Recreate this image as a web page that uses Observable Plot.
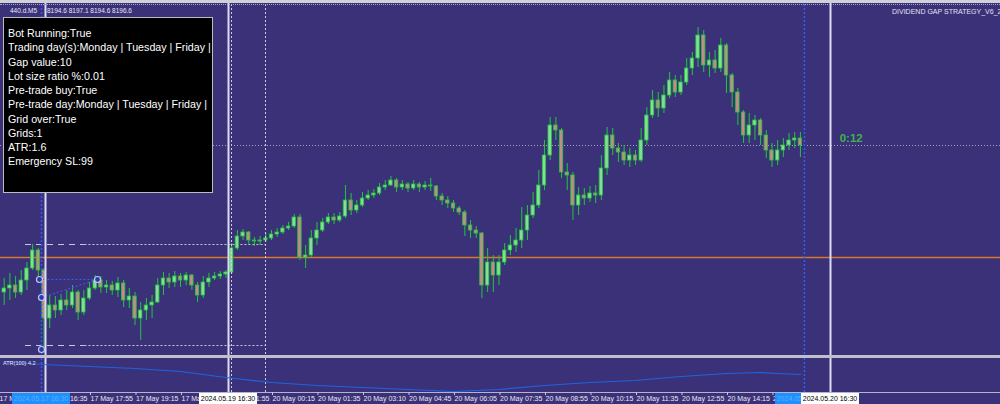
<!DOCTYPE html>
<html><head><meta charset="utf-8">
<script src="https://cdn.jsdelivr.net/npm/d3@7"></script>
<script src="https://cdn.jsdelivr.net/npm/@observablehq/plot@0.6"></script>
<style>
html,body{margin:0;padding:0;background:#3b3179;overflow:hidden;font-family:"Liberation Sans",Arial,sans-serif;}
#wrap{position:relative;width:1000px;height:404px;background:#3b3179;overflow:hidden;}
.abs{position:absolute;white-space:nowrap;}
</style></head><body><div id="wrap"></div>
<script>
// ---- data (price in index points, time in 10-minute bar index) ----
const firstOpen = 8167.2;
const closes = [8168.0,8168.6,8167.2,8169.6,8172.0,8175.6,8171.6,8162.0,8164.6,8163.6,
8165.6,8164.6,8167.2,8163.2,8166.0,8168.0,8169.6,8168.2,8168.6,8167.6,
8169.0,8165.6,8166.4,8162.0,8163.6,8164.6,8165.2,8168.6,8170.0,8169.2,
8170.4,8169.6,8170.6,8168.6,8166.6,8169.2,8170.0,8170.4,8170.8,8171.2,
8176.0,8178.4,8179.2,8177.6,8177.4,8177.6,8178.0,8178.8,8179.2,8180.0,
8180.4,8182.2,8174.2,8174.6,8178.0,8179.6,8181.2,8182.2,8181.6,8182.4,
8185.6,8183.6,8184.6,8186.0,8186.6,8187.0,8188.2,8188.6,8189.6,8188.2,
8188.8,8188.0,8188.8,8188.2,8188.6,8188.4,8186.4,8185.6,8185.0,8184.0,
8183.2,8180.6,8179.6,8179.0,8168.6,8173.2,8170.6,8173.2,8175.6,8176.6,
8177.6,8179.6,8182.6,8184.6,8188.6,8194.6,8200.6,8199.6,8191.2,8190.6,
8184.6,8186.6,8186.0,8187.0,8186.6,8192.0,8198.6,8196.0,8195.2,8193.6,
8194.6,8193.6,8197.6,8202.6,8205.6,8204.0,8206.6,8209.6,8207.2,8209.2,
8212.0,8214.0,8218.6,8212.6,8213.6,8212.0,8216.6,8210.6,8207.2,8203.2,
8198.6,8200.6,8201.6,8198.6,8195.6,8193.6,8195.6,8196.6,8197.6,8198.0,
8196.6];
const highs = [8170.0,8171.0,8170.4,8171.6,8173.2,8176.8,8176.0,8172.0,8166.6,8166.4,
8166.8,8167.6,8168.6,8167.6,8167.6,8169.2,8170.6,8170.4,8169.6,8169.4,
8170.2,8169.6,8168.0,8167.2,8165.2,8166.0,8166.6,8170.0,8171.2,8171.0,
8171.4,8171.0,8171.2,8170.8,8169.2,8170.4,8171.0,8171.2,8171.4,8171.6,
8177.0,8179.6,8179.8,8179.4,8178.2,8178.4,8179.0,8179.6,8180.0,8180.6,
8181.2,8182.8,8182.8,8176.6,8179.6,8181.2,8182.0,8183.0,8183.0,8183.2,
8188.6,8187.0,8185.6,8187.2,8187.6,8187.8,8189.0,8189.6,8190.4,8190.0,
8189.6,8189.2,8189.6,8189.2,8189.4,8190.0,8188.6,8187.0,8186.4,8185.6,
8184.4,8183.6,8181.6,8180.4,8179.2,8176.0,8174.6,8174.6,8177.0,8178.6,
8180.0,8184.2,8184.6,8187.2,8191.6,8197.6,8202.2,8202.2,8200.0,8193.0,
8191.2,8188.2,8188.0,8188.4,8188.6,8194.6,8200.2,8200.0,8197.0,8196.6,
8196.0,8195.6,8200.0,8204.2,8207.6,8207.2,8208.6,8211.2,8210.6,8210.6,
8214.0,8215.2,8220.2,8219.6,8215.2,8215.6,8218.0,8217.0,8211.0,8208.0,
8203.6,8203.0,8202.6,8202.0,8199.6,8197.0,8197.6,8198.0,8199.0,8199.2,
8199.2];
const lows = [8164.6,8165.6,8166.0,8166.6,8167.6,8171.6,8169.6,8156.2,8160.0,8162.0,
8162.6,8163.6,8164.0,8161.6,8162.6,8165.6,8167.6,8167.0,8167.0,8166.6,
8166.2,8164.2,8164.0,8160.6,8157.6,8161.6,8162.0,8165.0,8166.6,8168.0,
8168.2,8168.2,8168.6,8167.6,8165.2,8166.0,8168.2,8169.6,8169.8,8170.0,
8170.8,8175.6,8177.6,8176.6,8176.4,8176.6,8177.2,8177.6,8178.2,8178.8,
8179.6,8180.0,8173.6,8172.0,8174.0,8176.6,8179.2,8180.8,8180.8,8181.2,
8182.0,8182.6,8183.0,8184.2,8185.6,8186.0,8186.6,8187.6,8188.4,8187.2,
8187.6,8187.2,8187.6,8187.2,8187.6,8187.4,8185.6,8184.6,8184.0,8183.2,
8182.6,8178.4,8178.0,8178.0,8166.0,8167.2,8167.2,8168.6,8172.6,8174.6,
8175.2,8176.0,8177.6,8182.0,8184.0,8187.6,8193.6,8197.6,8190.0,8187.6,
8181.6,8182.6,8184.6,8185.2,8185.0,8185.6,8190.6,8194.6,8193.2,8192.6,
8192.2,8192.6,8193.2,8196.6,8202.0,8202.2,8203.0,8206.0,8206.2,8206.6,
8208.6,8210.6,8212.2,8211.2,8210.2,8211.0,8211.2,8207.0,8204.2,8200.6,
8197.0,8197.0,8197.6,8196.6,8194.0,8192.2,8192.6,8194.2,8195.6,8196.0,
8194.2];

// ATR(100) sub-window
const atrIdx  = [0,7,15,23,31,39,47,55,63,71,79,87,95,103,111,119,127,133,136,140];
const atrVals = [5.5,5.2,5.0,4.8,4.5,3.9,3.4,3.1,2.9,2.7,2.5,2.7,3.1,3.4,3.6,4.0,4.3,4.4,4.3,4.2];

// time axis
const tickIdx = [-1,7,15,23,31,39,47,55,63,71,79,87,95,103,111,119,127,135];
const tickLabels = ["17 May 15:15","17 May 16:35","17 May 17:55","17 May 19:15","17 May 20:35","17 May 21:55",
"20 May 00:15","20 May 01:35","20 May 03:10","20 May 04:45","20 May 06:05","20 May 07:35",
"20 May 08:55","20 May 10:15","20 May 11:35","20 May 12:55","20 May 14:15","20 May 15:35"];

// price levels
const bidPrice = 8196.6;
const orangeLevel = 8174.2;
const rangeLevels = [8176.8, 8156.6];
const rangeStart = 3.75, rangeSplit = 14.2, rangeEnd = 45.95;

// vertical line objects (bar index)
const whiteSolidLines = [7.26, 39.44, 145.29];
const whiteDashedLines = [39.97, 45.95];
const blueDottedLines = [6.56, 140.71];
const lineLabels = [
  {t: 6.56, text: "2024.05.17 16:30", kind: "blue"},
  {t: 39.44, text: "2024.05.19 16:30", kind: "white"},
  {t: 140.71, text: "2024.05.20 16:25", kind: "blue"},
  {t: 145.29, text: "2024.05.20 16:30", kind: "white"}
];

// trades
const tradeIdx   = [6.2, 6.56, 6.56, 16.41];
const tradePrice = [8169.8, 8166.2, 8155.8, 8169.8];
const tradeLinkFrom = [0, 1];
const tradeLinkTo   = [3, 3];

const timerIdx = 146.9;
const timerText = "0:12";

const infoLines = ["Bot Running:True","Trading day(s):Monday | Tuesday | Friday |","Gap value:10",
"Lot size ratio %:0.01","Pre-trade buy:True","Pre-trade day:Monday | Tuesday | Friday |",
"Grid over:True","Grids:1","ATR:1.6","Emergency SL:99"];
const headerSymbol = "440.d.M5";
const headerOHLC = "8194.6 8197.1 8194.6 8196.6";
const eaName = "DIVIDEND GAP STRATEGY_V6_2";
const atrLabel = "ATR(100) 4.2";

// ---- build ----
const bars = closes.map((c, i) => ({i, open: i === 0 ? firstOpen : closes[i-1], close: c, high: highs[i], low: lows[i]}));
const trades = tradeIdx.map((t, k) => ({t, p: tradePrice[k]}));
const tradeLinks = tradeLinkFrom.map((a, k) => ({a: trades[a], b: trades[tradeLinkTo[k]]}));
const atr = atrIdx.map((t, k) => ({t, v: atrVals[k]}));
const xDomain = [-0.65, 175.18];
const FONT = "Liberation Sans, Arial, sans-serif";

const wrap = document.getElementById("wrap");

const main = Plot.plot({
  width: 1000, height: 356, margin: 0,
  style: {background: "transparent", color: "#e4e4f0", overflow: "visible", fontFamily: FONT},
  x: {domain: xDomain, axis: null},
  y: {domain: [8154.4, 8225.6], axis: null},
  marks: [
    Plot.ruleY([bidPrice], {stroke: "#a4a4bc", strokeDasharray: "1,2"}),
    Plot.ruleY([orangeLevel], {stroke: "#d67a28", strokeWidth: 1.5}),
    Plot.ruleY(rangeLevels, {x1: rangeStart, x2: rangeSplit, stroke: "#c8c8dc", strokeDasharray: "6,5"}),
    Plot.ruleY(rangeLevels, {x1: rangeSplit, x2: rangeEnd, stroke: "#c8c8dc", strokeDasharray: "2,2"}),
    Plot.ruleX(bars, {x: "i", y1: "low", y2: "high", stroke: "#1fc83a", strokeWidth: 1}),
    Plot.rect(bars, {x1: d => d.i - 0.3, x2: d => d.i + 0.3, y1: "open", y2: "close",
      fill: d => d.close >= d.open ? "#86dc98" : "#bf8e86", stroke: "#1fc83a", strokeWidth: 0.8}),
    Plot.link(tradeLinks, {x1: d => d.a.t, y1: d => d.a.p, x2: d => d.b.t, y2: d => d.b.p,
      stroke: "#3a5cff", strokeDasharray: "2,2"}),
    Plot.ruleX(whiteSolidLines, {stroke: "#dcdcf2", strokeWidth: 2}),
    Plot.ruleX(whiteDashedLines, {stroke: "#cfcfe4", strokeDasharray: "2,2"}),
    Plot.ruleX(blueDottedLines, {stroke: "#2f5bff", strokeDasharray: "2,2", strokeWidth: 1.5}),
    Plot.dot(trades, {x: "t", y: "p", r: 3, stroke: "#c0c8ff", fill: "#2c3c9c", strokeWidth: 1.2}),
    Plot.text([timerText], {x: timerIdx, y: bidPrice, text: d => d, textAnchor: "start", dy: -7,
      fill: "#3cb44b", fontSize: 11.5, fontWeight: "bold"})
  ]
});
main.style.position = "absolute"; main.style.left = "0px"; main.style.top = "0px";
wrap.appendChild(main);

const tickMap = new Map(tickIdx.map((t, k) => [t, tickLabels[k]]));
const atrPlot = Plot.plot({
  width: 1000, height: 46, marginTop: 0, marginBottom: 12, marginLeft: 0, marginRight: 0,
  style: {background: "transparent", color: "#e4e4f0", overflow: "visible", fontFamily: FONT},
  x: {domain: xDomain, label: null},
  y: {domain: [2.4, 5.8], axis: null},
  marks: [
    Plot.ruleX(whiteSolidLines, {stroke: "#dcdcf2", strokeWidth: 2}),
    Plot.ruleX(whiteDashedLines, {stroke: "#cfcfe4", strokeDasharray: "2,2"}),
    Plot.ruleX(blueDottedLines, {stroke: "#2f5bff", strokeDasharray: "2,2", strokeWidth: 1.5}),
    Plot.line(atr, {x: "t", y: "v", stroke: "#1f63e0", strokeWidth: 1.2}),
    Plot.frame({anchor: "bottom", stroke: "#b4b4cc"}),
    Plot.axisX(tickIdx, {tickFormat: d => tickMap.get(d), tickSize: 3, tickPadding: 1, label: null,
      textAnchor: "start", dx: 1, fontSize: 7, fill: "#e8e8f2", stroke: "#c8c8dc"})
  ]
});
atrPlot.style.position = "absolute"; atrPlot.style.left = "0px"; atrPlot.style.top = "358px";
wrap.appendChild(atrPlot);

// label boxes of vertical lines on the time axis, placed through the plot's x scale
const sx = atrPlot.scale("x");
for (const lb of lineLabels) {
  const d = document.createElement("div");
  d.className = "abs";
  const w = 58;
  d.style.cssText += `left:${sx.apply(lb.t) - w/2}px;top:393px;width:${w}px;height:11px;font-size:7px;line-height:11px;text-align:center;` +
    (lb.kind === "blue" ? "background:#1e90ff;color:#5cb0ff;" : "background:#ffffff;color:#000000;");
  d.textContent = lb.text;
  wrap.appendChild(d);
}

// separators / frame
function bar(top, h, css) {
  const d = document.createElement("div");
  d.className = "abs";
  d.style.cssText += `left:0;top:${top}px;width:1000px;height:${h}px;` + css;
  wrap.appendChild(d);
}
bar(0, 3, "background:#d0d0d8;");
bar(4, 1, "border-top:1px dotted #a8a8d0;height:0;");
bar(355, 3, "background:#c0c0cc;");

// header texts
function txt(s, css) {
  const d = document.createElement("div");
  d.className = "abs";
  d.style.cssText += css;
  d.textContent = s;
  wrap.appendChild(d);
  return d;
}
txt(headerSymbol, "left:10px;top:7px;font-size:6.5px;color:#e8e8f0;");
txt(headerOHLC, "left:47px;top:7px;font-size:6.5px;color:#e8e8f0;");
txt(eaName, "left:892px;top:8px;font-size:7px;color:#e4e4f0;");
txt(atrLabel, "left:3px;top:360px;font-size:5.5px;color:#e4e4f0;");

// info panel
const box = document.createElement("div");
box.className = "abs";
box.style.cssText += "left:3px;top:17px;width:210px;height:176px;box-sizing:border-box;background:#000;border:1px solid #bdbdbd;padding:8px 0 0 4px;color:#fff;font-size:10.7px;line-height:14.27px;";
for (const l of infoLines) { const d = document.createElement("div"); d.textContent = l; box.appendChild(d); }
wrap.appendChild(box);
</script>
</body></html>
